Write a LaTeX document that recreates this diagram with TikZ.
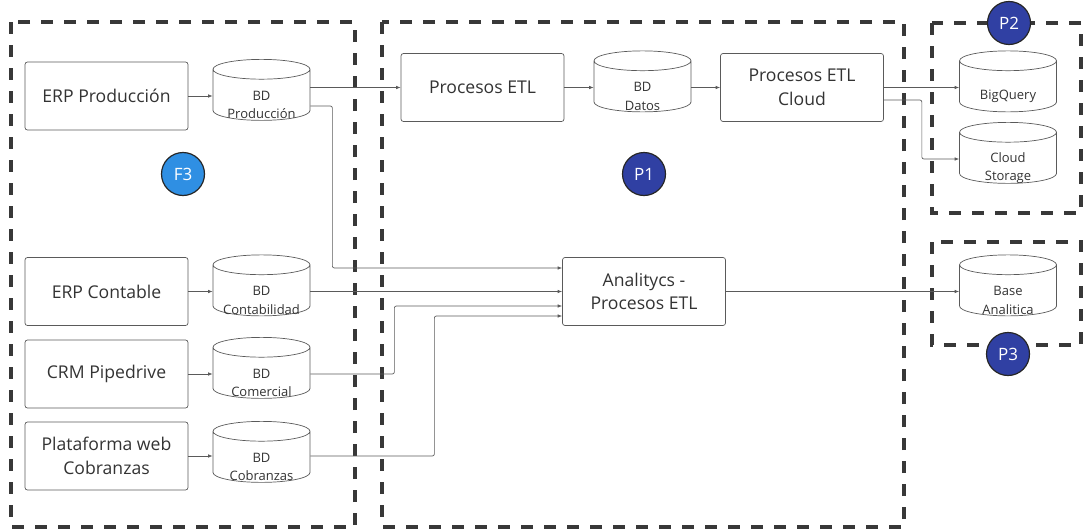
\documentclass[tikz,border=0pt]{standalone}
\usepackage{fontspec}
\setmainfont{Open Sans}
\usetikzlibrary{
  calc,
  positioning,
  arrows.meta,
  shapes.geometric
}
\definecolor{inkgray}{HTML}{333333}
\definecolor{linegray}{HTML}{5A5A5A}
\definecolor{zonegray}{HTML}{383838}
\definecolor{tagblue}{HTML}{2F8FE3}
\definecolor{tagnavy}{HTML}{3040A3}

\begin{document}
\begin{tikzpicture}[x=1pt,y=-1pt,> ={Latex[length=4.5pt,width=3.5pt]}]
  \tikzset{
    procbox/.style={
      draw=linegray, line width=0.7pt, rounded corners=2.5pt,
      minimum width=163pt, minimum height=68pt, align=center,
      text=inkgray, font=\fontsize{17.6}{23.5}\selectfont
    },
    dbase/.style={
      cylinder, shape border rotate=90, aspect=0.3,
      draw=linegray, line width=0.7pt, inner sep=1pt, text width=64pt,
      minimum width=97pt, minimum height=61pt
    },
    dbtext/.style={
      align=center, text=inkgray, yshift=-9pt,
      font=\fontsize{13}{18.5}\selectfont
    },
    zone/.style={
      draw=zonegray, line width=3.2pt, dash pattern=on 12pt off 11pt
    },
    flow/.style={
      ->, draw=linegray, line width=0.7pt, rounded corners=2pt
    },
    tag/.style={
      circle, draw=black!85, line width=1.2pt, minimum size=43pt,
      inner sep=0pt, text=white, font=\fontsize{17}{17}\selectfont
    },
  }
  \useasboundingbox (0,0) rectangle (1084,530);

  % zonas
  \draw[zone] (11,22) rectangle (355,527);
  \draw[zone] (382,22) rectangle (904,527);
  \draw[zone] (932,23) rectangle (1081,213);
  \draw[zone] (932,242) rectangle (1081,345);

  % fuentes
  \node[procbox] (erpprod) at (106.5,96) {ERP Producción};
  \node[procbox] (erpcont) at (106.5,291.5) {ERP Contable};
  \node[procbox] (crm) at (106.5,374) {CRM Pipedrive};
  \node[procbox] (plat) at (106.5,456) {Plataforma web\\Cobranzas};

  \node[dbase, label={[dbtext]center:BD\\Producción}] (bdprod) at (261.5,96) {};
  \node[dbase, label={[dbtext]center:BD\\Contabilidad}] (bdcont) at (261.5,291.5) {};
  \node[dbase, label={[dbtext]center:BD\\Comercial}] (bdcom) at (261.5,374) {};
  \node[dbase, label={[dbtext]center:BD\\Cobranzas}] (bdcob) at (261.5,458) {};

  % procesos
  \node[procbox] (etl) at (482.5,87.5) {Procesos ETL};
  \node[dbase, label={[dbtext]center:BD\\Datos}] (bddatos) at (642.5,87.5) {};
  \node[procbox] (cloud) at (802,87.5) {Procesos ETL\\Cloud};
  \node[procbox] (analit) at (644,291.5) {Analitycs -\\Procesos ETL};

  % destinos
  \node[dbase, label={[dbtext]center:BigQuery}] (bigq) at (1008,87.5) {};
  \node[dbase, label={[dbtext]center:Cloud\\Storage}] (cstor) at (1008,159) {};
  \node[dbase, label={[dbtext]center:Base\\Analitica}] (base) at (1008,291.5) {};

  % marcas
  \node[tag, fill=tagblue] (tagf3) at (183,174) {F3};
  \node[tag, fill=tagnavy] (tagp1) at (644,174) {P1};
  \node[tag, fill=tagnavy] (tagp2) at (1009,23) {P2};
  \node[tag, fill=tagnavy] (tagp3) at (1008,354) {P3};

  % flujos
  \draw[flow] (erpprod.east) -- (erpprod.east -| bdprod.west);
  \draw[flow] (erpcont.east) -- (erpcont.east -| bdcont.west);
  \draw[flow] (crm.east) -- (crm.east -| bdcom.west);
  \draw[flow] (plat.east) -- (plat.east -| bdcob.west);

  \draw[flow] (bdprod.east |- etl.west) -- (etl.west);
  \draw[flow] (etl.east) -- (etl.east -| bddatos.west);
  \draw[flow] (bddatos.east |- cloud.west) -- (cloud.west);
  \draw[flow] (cloud.east) -- (cloud.east -| bigq.west);
  \draw[flow] ([yshift=-12.5pt]cloud.east) -- ++(38,0) |- (cstor.west);

  \draw[flow] ([yshift=-10pt]bdprod.east) -- ++(22,0) |- ([yshift=23.5pt]analit.west);
  \draw[flow] (bdcont.east) -- (bdcont.east -| analit.west);
  \draw[flow] (bdcom.east) -- ++(84,0) |- ([yshift=-14.5pt]analit.west);
  \draw[flow] ([yshift=2pt]bdcob.east) -- ++(124,0) |- ([yshift=-24.5pt]analit.west);
  \draw[flow] (analit.east) -- (analit.east -| base.west);
\end{tikzpicture}
\end{document}
